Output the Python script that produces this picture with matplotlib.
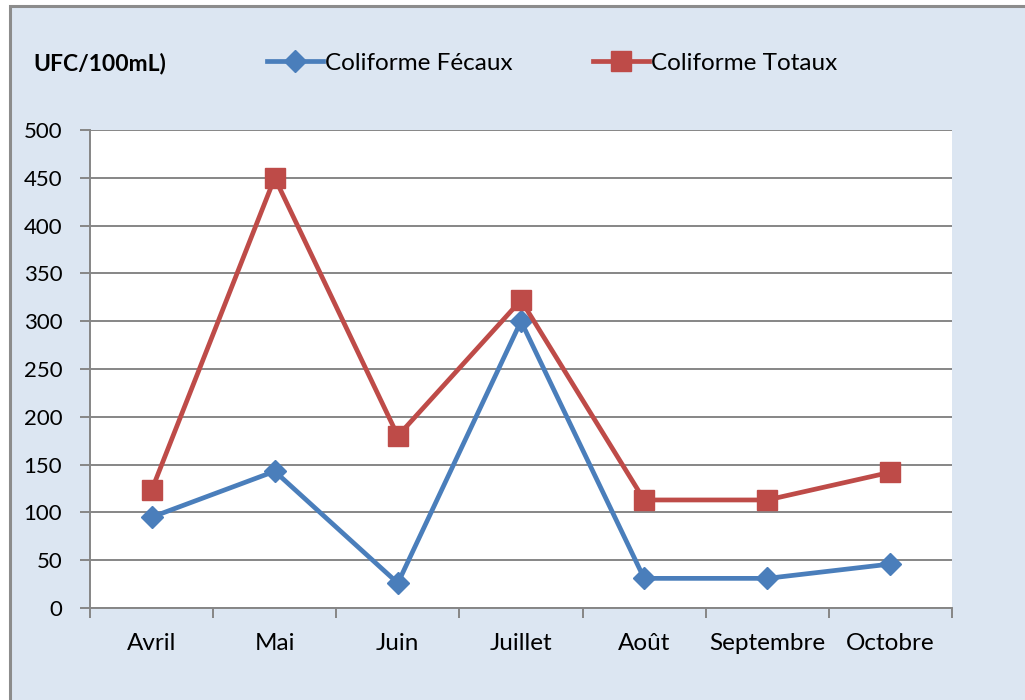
"""Coliformes fécaux et totaux (UFC/100mL) par mois, d'avril à octobre."""

import matplotlib.pyplot as plt
from matplotlib.lines import Line2D
from matplotlib.patches import Rectangle

plt.rcParams["font.family"] = ["Lato", "DejaVu Sans"]

months = ["Avril", "Mai", "Juin", "Juillet", "Août", "Septembre", "Octobre"]
fecaux = [95, 143, 26, 300, 31, 31, 46]
totaux = [123, 450, 180, 322, 113, 113, 142]
y_ticks = [0, 50, 100, 150, 200, 250, 300, 350, 400, 450, 500]

BLUE = "#4a7ebb"
RED = "#be4b48"
GRID = "#868686"
BG = "#dce6f2"

W, H = 1025, 700
fig = plt.figure(figsize=(W / 100, H / 100), dpi=100, facecolor="white")

# chart area background with a gray frame (left / top edges visible)
fig.add_artist(Rectangle((10 / W, -0.1), 1.2, 1 - 6 / H + 0.1,
                         transform=fig.transFigure, facecolor=BG,
                         edgecolor="#8c8c8c", linewidth=2.2, zorder=-10))

ax = fig.add_axes([90 / W, 1 - 608 / H, (952 - 90) / W, (608 - 130) / H])
ax.set_facecolor("white")

x = range(len(months))
ax.plot(x, fecaux, color=BLUE, lw=3.4, marker="D", ms=11,
        label="Coliforme Fécaux", zorder=3)
ax.plot(x, totaux, color=RED, lw=3.4, marker="s", ms=14,
        label="Coliforme Totaux", zorder=3)

ax.set_xlim(-0.5, len(months) - 0.5)
ax.set_ylim(0, 500)
ax.set_yticks(y_ticks)
ax.yaxis.grid(True, color=GRID, lw=1.4)
ax.set_axisbelow(True)

ax.set_xticks(list(x))
ax.set_xticklabels(months)
ax.set_xticks([i - 0.5 for i in range(len(months) + 1)], minor=True)
ax.tick_params(axis="x", which="major", length=0, pad=18, labelsize=17.5)
ax.tick_params(axis="x", which="minor", length=7, width=1.4, color=GRID,
               direction="out")
ax.tick_params(axis="y", length=7, width=1.4, color=GRID, labelsize=16, pad=13)

for side in ("top", "right"):
    ax.spines[side].set_visible(False)
for side in ("left", "bottom"):
    ax.spines[side].set_color(GRID)
    ax.spines[side].set_linewidth(1.4)

fig.text(33 / W, 1 - 63 / H, "UFC/100mL)", fontsize=16.5, fontweight="bold",
         va="center", ha="left")

handles = [
    Line2D([], [], color=BLUE, lw=3.4, marker="D", ms=11),
    Line2D([], [], color=RED, lw=3.4, marker="s", ms=14),
]
fig.legend(handles, ["Coliforme Fécaux", "Coliforme Totaux"], ncol=2,
           loc="center left", bbox_to_anchor=(257 / W, 1 - 63 / H),
           frameon=False, fontsize=17.5, handlelength=2.3, handletextpad=0.1,
           columnspacing=3.3, borderaxespad=0)

fig.savefig("out.png", dpi=100, facecolor=fig.get_facecolor())
